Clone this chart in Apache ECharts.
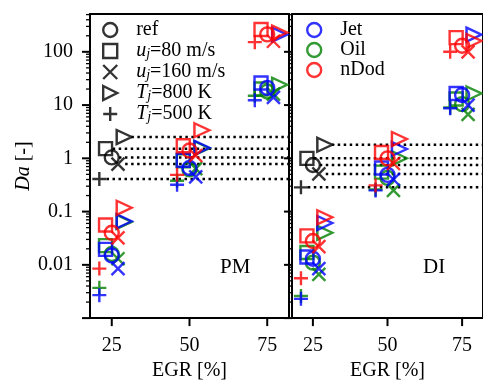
<!DOCTYPE html>
<html>
<head>
<meta charset="utf-8">
<script src="https://cdn.jsdelivr.net/npm/echarts@6/dist/echarts.min.js"></script>
<style>
  html, body { margin: 0; padding: 0; background: #fff; }
  #chart { width: 483px; height: 386px; }
</style>
</head>
<body>
<div id="chart"></div>
<script>
const egr = [25, 50, 75]
const cases = ["ref", "u80", "u160", "T800", "T500"]
const caseLabels = ["ref", "{i|u}{s|j}=80 m/s", "{i|u}{s|j}=160 m/s", "{i|T}{s|j}=800 K", "{i|T}{s|j}=500 K"]
// markers of each case are nudged apart around an EGR level
const egrOffset = [0, -2, 2, 4, -4]
const fuels = ["Jet", "Oil", "nDod"]
const yTicks = [0.01, 0.1, 1, 10, 100]
const xTicks = [25, 50, 75]

// rows follow `cases`, columns follow `egr`
const pmJet = [
  [0.015, 0.66, 21],
  [0.0195, 0.92, 26],
  [0.0085, 0.45, 14],
  [0.066, 1.58, 210],
  [0.0027, 0.32, 12.3],
]
const pmOil = [
  [0.016, 0.62, 18],
  [0.023, 0.9, 20],
  [0.013, 0.64, 16],
  [0.064, 1.55, 24],
  [0.0037, 0.38, 15],
]
const pmDod = [
  [0.04, 1.4, 213],
  [0.056, 1.72, 263],
  [0.032, 1.13, 158],
  [0.118, 3.37, 230],
  [0.0085, 0.49, 152],
]
const diJet = [
  [0.013, 0.49, 15.5],
  [0.014, 0.66, 16.5],
  [0.0085, 0.4, 10],
  [0.061, 1.5, 210],
  [0.0023, 0.25, 8.7],
]
const diOil = [
  [0.011, 0.43, 10.4],
  [0.017, 0.55, 13],
  [0.0066, 0.25, 6.7],
  [0.04, 1.0, 16.5],
  [0.0026, 0.26, 9],
]
const diDod = [
  [0.028, 1.0, 130],
  [0.035, 1.29, 185],
  [0.022, 0.8, 100],
  [0.078, 2.3, 160],
  [0.0056, 0.31, 100],
]
// black reference markers at EGR 25, carried across as dotted lines
const pmBase = [1.04, 1.52, 0.78, 2.51, 0.41]
const diBase = [0.75, 1.0, 0.51, 1.8, 0.285]

const font = "Liberation Serif"
const symbols = [
  "circle",
  "rect",
  "path://M0,0L10,10M10,0L0,10",
  "path://M0,0L10,5L0,10Z",
  "path://M5,0L5,10M0,5L10,5",
]
const symbolSizes = [14, 13, 13, [15, 14], 14]
const fuelColors = { Jet: "#0000ff", Oil: "#008000", nDod: "#ff0000" }
const drawOrder = ["Oil", "Jet", "nDod"]

const panels = [
  { label: "PM", fuel: { Jet: pmJet, Oil: pmOil, nDod: pmDod }, base: pmBase },
  { label: "DI", fuel: { Jet: diJet, Oil: diOil, nDod: diDod }, base: diBase },
]

const xMin = 18
const xMax = 82
const yMin = 0.001
const yMax = 513

// decade ticks plus the 2..9 steps inside each decade
const majorY = [yMin].concat(yTicks)
const minorY = []
for (let d = -3; d <= 2; d++) {
  for (let m = 2; m <= 9; m++) {
    const v = m * Math.pow(10, d)
    if (v < yMax) minorY.push(v)
  }
}

const hollow = (color) => ({ color: "transparent", borderColor: color, borderWidth: 2.4 })
const frameLine = () => ({ show: true, lineStyle: { color: "#000", width: 2 } })

const series = []
panels.forEach((p, pi) => {
  cases.forEach((c, ci) => {
    series.push({
      type: "line",
      xAxisIndex: pi,
      yAxisIndex: pi,
      silent: true,
      symbol: "none",
      z: 1,
      lineStyle: { color: "#000", width: 2.5, type: [2.5, 3.5], cap: "butt" },
      data: [[egr[0] + egrOffset[ci] + 2.3, p.base[ci]], [xMax, p.base[ci]]],
    })
    series.push({
      type: "scatter",
      xAxisIndex: pi,
      yAxisIndex: pi,
      symbol: symbols[ci],
      symbolSize: symbolSizes[ci],
      itemStyle: hollow("#000"),
      data: [[egr[0] + egrOffset[ci], p.base[ci]]],
    })
  })
  drawOrder.forEach((f) => {
    cases.forEach((c, ci) => {
      series.push({
        type: "scatter",
        xAxisIndex: pi,
        yAxisIndex: pi,
        symbol: symbols[ci],
        symbolSize: symbolSizes[ci],
        itemStyle: hollow(fuelColors[f]),
        data: egr.map((e, k) => [e + egrOffset[ci], p.fuel[f][ci][k]]),
      })
    })
  })

  // axis ticks, placed through the axes' own scales: [x, y, kind]
  // kind 0 = decade tick on y, 1 = minor tick on y, 2 = tick on x
  const tickData = majorY.map((v) => [xMin, v, 0])
    .concat(minorY.map((v) => [xMin, v, 1]))
    .concat(xTicks.map((v) => [v, yMin, 2]))
  series.push({
    type: "custom",
    xAxisIndex: pi,
    yAxisIndex: pi,
    silent: true,
    clip: false,
    z: 5,
    encode: { x: 0, y: 1 },
    data: tickData,
    renderItem: (params, api) => {
      const pt = api.coord([api.value(0), api.value(1)])
      const kind = api.value(2)
      const shape = kind === 2
        ? { x1: pt[0], y1: pt[1], x2: pt[0], y2: pt[1] + 8 }
        : { x1: pt[0] - (kind === 0 ? 8 : 4), y1: pt[1], x2: pt[0], y2: pt[1] }
      return {
        type: "line",
        shape,
        style: { stroke: "#000", lineWidth: kind === 1 ? 1.3 : 2 },
      }
    },
  })
})

// empty series so the two legends have something to point at
cases.forEach((c, ci) => {
  series.push({ type: "scatter", name: c, symbol: symbols[ci], itemStyle: hollow("#000"), data: [] })
})
fuels.forEach((f) => {
  series.push({ type: "scatter", name: f, symbol: "circle", itemStyle: hollow(fuelColors[f]), data: [] })
})

const legendText = {
  fontFamily: font,
  fontSize: 20,
  color: "#000",
  lineHeight: 20,
  padding: [0, 0, 0, 14],
  rich: {
    i: { fontFamily: font, fontSize: 20, fontStyle: "italic", lineHeight: 20 },
    s: { fontFamily: font, fontSize: 14, fontStyle: "italic", lineHeight: 12, verticalAlign: "bottom" },
  },
}

const grids = [
  { left: 90, top: 14, width: 199, height: 314 },
  { left: 292, top: 14, width: 199, height: 314 },
]

const xAxes = panels.map((p, pi) => ({
  type: "value",
  gridIndex: pi,
  min: xMin,
  max: xMax,
  name: "EGR [%]",
  nameLocation: "middle",
  nameGap: 38,
  nameTextStyle: { fontFamily: font, fontSize: 20, color: "#000" },
  axisLine: frameLine(),
  axisTick: { show: false },
  axisLabel: { fontFamily: font, fontSize: 20, color: "#000", margin: 18, customValues: xTicks },
  splitLine: { show: false },
}))
// top edge of each frame
panels.forEach((p, pi) => {
  xAxes.push({
    type: "value", gridIndex: pi, position: "top", min: xMin, max: xMax,
    axisLine: frameLine(), axisTick: { show: false }, axisLabel: { show: false }, splitLine: { show: false },
  })
})

const yAxes = panels.map((p, pi) => ({
  type: "log",
  logBase: 10,
  gridIndex: pi,
  min: yMin,
  max: yMax,
  name: pi === 0 ? "{i|Da} [-]" : "",
  nameLocation: "middle",
  nameGap: 56,
  nameTextStyle: {
    fontFamily: font,
    fontSize: 20,
    color: "#000",
    rich: { i: { fontFamily: font, fontSize: 20, fontStyle: "italic" } },
  },
  axisLine: frameLine(),
  axisTick: { show: false },
  axisLabel: {
    show: pi === 0,
    fontFamily: font,
    fontSize: 20,
    color: "#000",
    margin: 17,
    formatter: (v) => String(yTicks.find((t) => Math.abs(Math.log10(t) - Math.log10(v)) < 1e-6) ?? ""),
  },
  splitLine: { show: false },
}))
// right edge of each frame
panels.forEach((p, pi) => {
  yAxes.push({
    type: "log", logBase: 10, gridIndex: pi, position: "right", min: yMin, max: yMax,
    axisLine: frameLine(), axisTick: { show: false }, axisLabel: { show: false }, splitLine: { show: false },
  })
})

const chart = echarts.init(document.getElementById("chart"), null, { renderer: "canvas" })

chart.setOption({
  animation: false,
  backgroundColor: "#fff",
  grid: grids,
  xAxis: xAxes,
  yAxis: yAxes,
  legend: [
    {
      data: cases.map((c, ci) => ({ name: c, icon: symbols[ci], itemStyle: hollow("#000") })),
      orient: "vertical",
      left: 102,
      top: 20,
      padding: 0,
      itemWidth: 14,
      itemHeight: 14,
      itemGap: 1,
      selectedMode: false,
      formatter: (n) => caseLabels[cases.indexOf(n)],
      textStyle: legendText,
    },
    {
      data: fuels.map((f) => ({ name: f, icon: "circle", itemStyle: hollow(fuelColors[f]) })),
      orient: "vertical",
      left: 306,
      top: 20,
      padding: 0,
      itemWidth: 14,
      itemHeight: 14,
      itemGap: 0,
      selectedMode: false,
      textStyle: legendText,
    },
  ],
  graphic: [
    { type: "text", left: 220, top: 257, style: { text: panels[0].label, fontFamily: font, fontSize: 21, fill: "#000" } },
    { type: "text", left: 423, top: 257, style: { text: panels[1].label, fontFamily: font, fontSize: 21, fill: "#000" } },
  ],
  series,
})
</script>
</body>
</html>
